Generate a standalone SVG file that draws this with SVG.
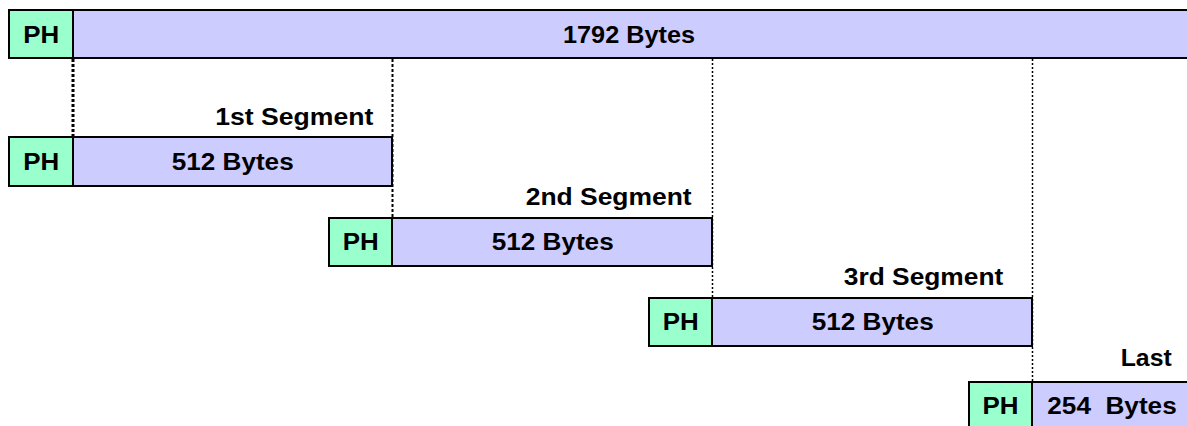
<svg xmlns="http://www.w3.org/2000/svg" width="1187" height="426" viewBox="0 0 1187 426">
  <style>
    .ph { fill: #99FFCC; stroke: #000; stroke-width: 2; }
    .data { fill: #CCCCFF; stroke: #000; stroke-width: 2; }
    text { font-family: "Liberation Sans", Arial, sans-serif; font-weight: bold; font-size: 23px; fill: #000; }
    .guide { stroke: #000; fill: none; }
  </style>
  <rect x="0" y="0" width="1187" height="426" fill="#fff"/>

  <!-- dotted guides marking where each segment's payload ends -->
  <g id="connectors">
    <line class="guide" x1="73" y1="59" x2="73" y2="137" stroke-width="3" stroke-dasharray="3,2"/>
    <line class="guide" x1="392.5" y1="59" x2="392.5" y2="218" stroke-width="2" stroke-dasharray="3,2"/>
    <line class="guide" x1="712.5" y1="59" x2="712.5" y2="298" stroke-width="1.5" stroke-dasharray="2,2"/>
    <line class="guide" x1="1032.5" y1="59" x2="1032.5" y2="382" stroke-width="1.5" stroke-dasharray="2,2"/>
  </g>

  <g id="packet">
    <rect class="data" x="73" y="10" width="1120" height="48"/>
    <rect class="ph" x="9" y="10" width="64" height="48"/>
    <text x="23.3" y="42.5" textLength="36" lengthAdjust="spacingAndGlyphs">PH</text>
    <text x="563" y="42.5" textLength="132" lengthAdjust="spacingAndGlyphs">1792 Bytes</text>
  </g>

  <g id="segment1">
    <text x="215.3" y="125" textLength="158" lengthAdjust="spacingAndGlyphs">1st Segment</text>
    <rect class="data" x="73" y="137" width="319" height="49"/>
    <rect class="ph" x="9" y="137" width="64" height="49"/>
    <text x="23.3" y="169.5" textLength="36" lengthAdjust="spacingAndGlyphs">PH</text>
    <text x="171.7" y="170" textLength="122" lengthAdjust="spacingAndGlyphs">512 Bytes</text>
  </g>

  <g id="segment2">
    <text x="525.7" y="205" textLength="166" lengthAdjust="spacingAndGlyphs">2nd Segment</text>
    <rect class="data" x="392" y="218" width="320" height="48"/>
    <rect class="ph" x="329" y="218" width="63" height="48"/>
    <text x="342.8" y="250" textLength="36" lengthAdjust="spacingAndGlyphs">PH</text>
    <text x="491.7" y="250" textLength="122" lengthAdjust="spacingAndGlyphs">512 Bytes</text>
  </g>

  <g id="segment3">
    <text x="843.8" y="285" textLength="159.5" lengthAdjust="spacingAndGlyphs">3rd Segment</text>
    <rect class="data" x="712" y="298" width="320" height="48"/>
    <rect class="ph" x="649" y="298" width="63" height="48"/>
    <text x="662.8" y="330" textLength="36" lengthAdjust="spacingAndGlyphs">PH</text>
    <text x="811.7" y="330" textLength="122" lengthAdjust="spacingAndGlyphs">512 Bytes</text>
  </g>

  <g id="last">
    <text x="1120.7" y="365.5" textLength="51" lengthAdjust="spacingAndGlyphs">Last</text>
    <rect class="data" x="1032" y="382" width="170" height="60"/>
    <rect class="ph" x="969" y="382" width="63" height="60"/>
    <text x="982.5" y="413.5" textLength="36" lengthAdjust="spacingAndGlyphs">PH</text>
    <text x="1047.3" y="413.5" textLength="129.4" lengthAdjust="spacingAndGlyphs" xml:space="preserve">254  Bytes</text>
  </g>
</svg>
